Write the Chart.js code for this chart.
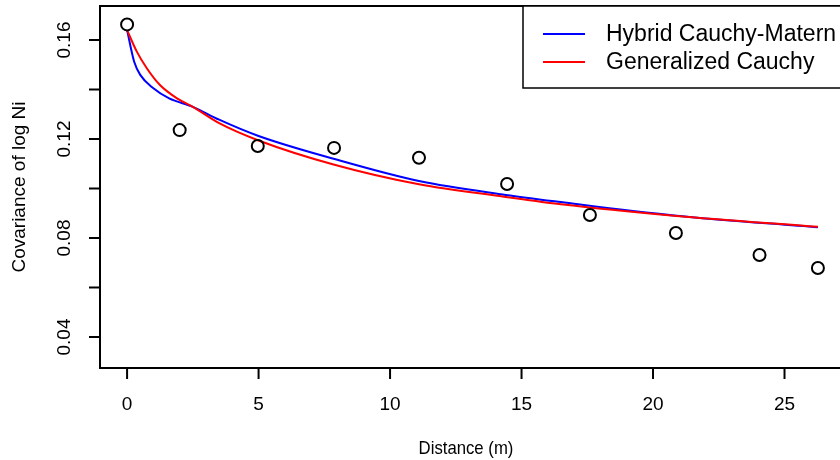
<!DOCTYPE html>
<html>
<head>
<meta charset="utf-8">
<script src="https://cdn.jsdelivr.net/npm/chart.js@4"></script>
<style>
  html, body { margin: 0; padding: 0; background: #fff; overflow: hidden; }
  #wrap { width: 840px; height: 460px; }
</style>
</head>
<body>
<div id="wrap"><canvas id="covChart"></canvas></div>
<script>
// Empirical covariance (circles)
const obsDistance = [0, 2.0, 4.97, 7.87, 11.1, 14.45, 17.6, 20.87, 24.05, 26.27];
const obsCov = [0.1663, 0.1236, 0.1172, 0.1164, 0.1124, 0.1018, 0.0893, 0.0820, 0.0731, 0.0679];

// Hybrid Cauchy-Matern fit (blue)
const hybridDistance = [0, 0.27, 0.5, 1.0, 1.6, 2.5, 3.5, 5.0, 7.85, 11.1, 14.4, 16.5, 20.8, 26.27];
const hybridCov = [0.1640, 0.1512, 0.1459, 0.1405, 0.1364, 0.1330, 0.1278, 0.1212, 0.1120, 0.1030, 0.0974, 0.0945, 0.0891, 0.0843];

// Generalized Cauchy fit (red)
const gcDistance = [0, 0.37, 0.75, 1.25, 1.9, 2.5, 3.5, 5.0, 7.85, 11.1, 14.4, 16.5, 20.8, 26.27];
const gcCov = [0.1640, 0.1553, 0.1486, 0.1418, 0.1364, 0.1330, 0.1264, 0.1194, 0.1097, 0.1017, 0.0966, 0.0936, 0.0890, 0.0845];

// Axis ticks
const xTicks = [0, 5, 10, 15, 20, 25];
const yTicks = [0.04, 0.06, 0.08, 0.10, 0.12, 0.14, 0.16];
const yTickLabels = ['0.04', '', '0.08', '', '0.12', '', '0.16'];

const seriesNames = ['Hybrid Cauchy-Matern', 'Generalized Cauchy'];
const seriesColors = ['#0000FF', '#FF0000'];

const FONT = '"Liberation Sans", Arial, Helvetica, sans-serif';

function toPoints(xs, ys) {
    return xs.map((x, i) => ({ x: x, y: ys[i] }));
}

// R-style frame, axes and legend
const rFramePlugin = {
    id: 'rFrame',
    afterDraw(chart) {
        const ctx = chart.ctx;
        const area = chart.chartArea;
        const xs = chart.scales.x;
        const ys = chart.scales.y;
        const tick = 11;
        ctx.save();
        ctx.strokeStyle = '#000';
        ctx.fillStyle = '#000';
        ctx.lineWidth = 2;

        // box (right side falls outside the picture)
        ctx.beginPath();
        ctx.moveTo(area.right + 10, area.top);
        ctx.lineTo(area.left, area.top);
        ctx.lineTo(area.left, area.bottom);
        ctx.lineTo(area.right + 10, area.bottom);
        ctx.stroke();

        // x axis ticks + labels
        ctx.font = '19px ' + FONT;
        ctx.textAlign = 'center';
        ctx.textBaseline = 'middle';
        xTicks.forEach(v => {
            const px = xs.getPixelForValue(v);
            ctx.beginPath();
            ctx.moveTo(px, area.bottom);
            ctx.lineTo(px, area.bottom + tick);
            ctx.stroke();
            ctx.fillText(String(v), px, 405);
        });

        // y axis ticks + rotated labels
        yTicks.forEach((v, i) => {
            const py = ys.getPixelForValue(v);
            ctx.beginPath();
            ctx.moveTo(area.left, py);
            ctx.lineTo(area.left - tick, py);
            ctx.stroke();
            if (yTickLabels[i]) {
                ctx.save();
                ctx.translate(65, py);
                ctx.rotate(-Math.PI / 2);
                ctx.fillText(yTickLabels[i], 0, 0);
                ctx.restore();
            }
        });

        // axis titles
        ctx.save();
        ctx.translate(466, 449);
        ctx.scale(0.88, 1);
        ctx.fillText('Distance (m)', 0, 0);
        ctx.restore();
        ctx.save();
        ctx.translate(20, (area.top + area.bottom) / 2);
        ctx.rotate(-Math.PI / 2);
        ctx.fillText('Covariance of log Ni', 0, 0);
        ctx.restore();

        // legend
        ctx.lineWidth = 1.5;
        ctx.fillStyle = '#fff';
        ctx.fillRect(523, 6, 330, 82);
        ctx.strokeStyle = '#000';
        ctx.strokeRect(523, 6, 330, 82);
        ctx.font = '23px ' + FONT;
        ctx.textAlign = 'left';
        seriesNames.forEach((name, i) => {
            const ly = 34 + i * 28;
            ctx.strokeStyle = seriesColors[i];
            ctx.lineWidth = 2;
            ctx.beginPath();
            ctx.moveTo(543, ly);
            ctx.lineTo(585, ly);
            ctx.stroke();
            ctx.fillStyle = '#000';
            ctx.fillText(name, 606, ly + 1);
        });
        ctx.restore();
    }
};

window.onload = function() {
    const ctx = document.getElementById('covChart').getContext('2d');
    new Chart(ctx, {
        type: 'scatter',
        data: {
            datasets: [
                {
                    label: 'Empirical',
                    data: toPoints(obsDistance, obsCov),
                    showLine: false,
                    pointRadius: 6,
                    pointBorderWidth: 2,
                    pointBorderColor: '#000',
                    pointBackgroundColor: 'rgba(0,0,0,0)',
                    order: 0
                },
                {
                    label: seriesNames[0],
                    data: toPoints(hybridDistance, hybridCov),
                    showLine: true,
                    borderColor: seriesColors[0],
                    borderWidth: 2,
                    pointRadius: 0,
                    cubicInterpolationMode: 'monotone',
                    order: 2
                },
                {
                    label: seriesNames[1],
                    data: toPoints(gcDistance, gcCov),
                    showLine: true,
                    borderColor: seriesColors[1],
                    borderWidth: 2,
                    pointRadius: 0,
                    cubicInterpolationMode: 'monotone',
                    order: 1
                }
            ]
        },
        options: {
            responsive: true,
            maintainAspectRatio: false,
            animation: false,
            layout: { autoPadding: false, padding: { left: 100, top: 6, right: 0, bottom: 92 } },
            scales: {
                x: { type: 'linear', display: false, min: -1.03, max: 27.11 },
                y: { type: 'linear', display: false, min: 0.02747, max: 0.17374 }
            },
            plugins: {
                legend: { display: false },
                tooltip: { enabled: false }
            }
        },
        plugins: [rFramePlugin]
    });
};
</script>
</body>
</html>
